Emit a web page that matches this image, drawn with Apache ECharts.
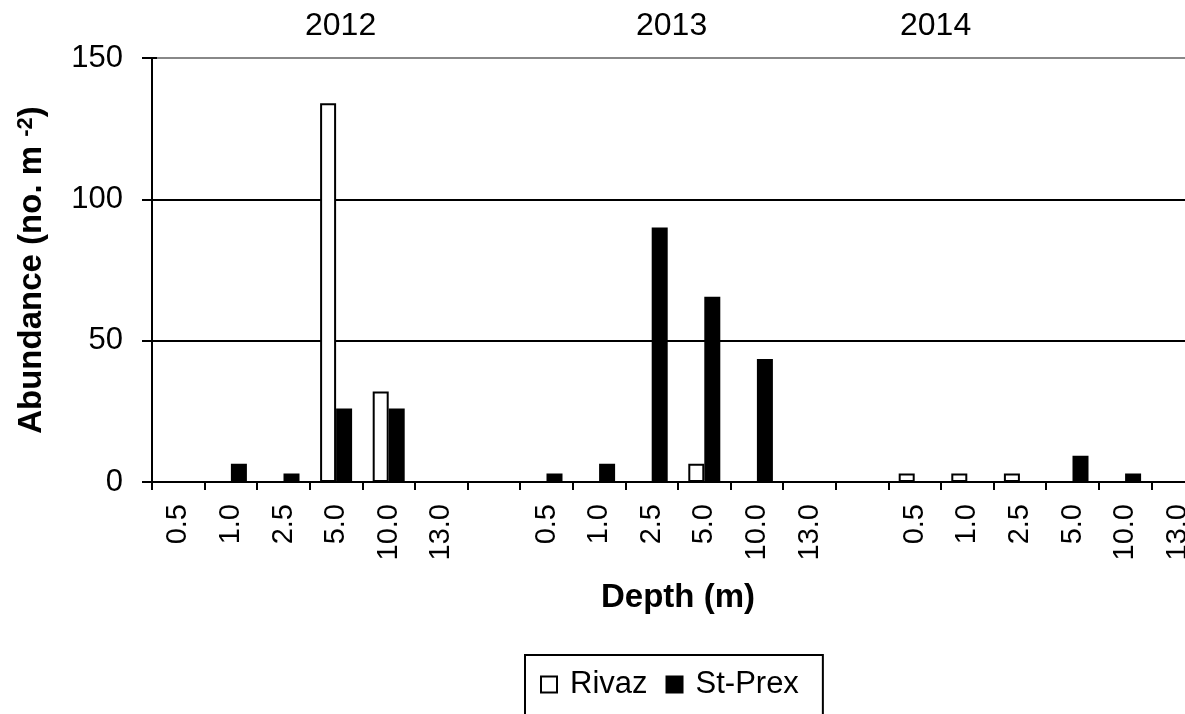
<!DOCTYPE html>
<html>
<head>
<meta charset="utf-8">
<script src="https://cdn.jsdelivr.net/npm/echarts@6/dist/echarts.min.js"></script>
<style>
html,body{margin:0;padding:0;background:#fff;}
#chart{width:1185px;height:714px;}
</style>
</head>
<body>
<div id="chart"></div>
<script>
// Categories: three years of six depths, separated by one blank slot each
const depths = ['0.5', '1.0', '2.5', '5.0', '10.0', '13.0'];
const years = ['2012', '2013', '2014'];
const categories = [].concat(depths, [''], depths, [''], depths);

// Abundance (no. m^-2), blank slots as null
const rivaz = [0, 0, 0, 134, 32, 0, null, 0, 0, 0, 6.5, 0, 0, null, 3, 3, 3, 0, 0, 0];
const stPrex = [0, 6.5, 3, 26, 26, 0, null, 3, 6.5, 90, 65.5, 43.5, 0, null, 0, 0, 0, 9.3, 3, 0];

const yTicks = { min: 0, max: 150, interval: 50 };

const FONT = 'Liberation Sans, Arial, sans-serif';
const chart = echarts.init(document.getElementById('chart'), null, { renderer: 'canvas' });

const yearLabelX = [341, 672, 936];

chart.setOption({
  animation: false,
  backgroundColor: '#fff',
  textStyle: { fontFamily: FONT, color: '#000' },
  grid: { left: 152, top: 58, bottom: 232, width: 1052, outerBoundsMode: 'none' },
  graphic: years.map((y, i) => ({
    type: 'text',
    left: yearLabelX[i] - 36,
    top: 10,
    style: { text: y, fontSize: 32, fontFamily: FONT, fill: '#000' }
  })),
  legend: {
    left: 525,
    top: 655,
    orient: 'horizontal',
    icon: 'rect',
    itemWidth: 16,
    itemHeight: 16,
    itemGap: 18,
    padding: [14, 24, 40, 15],
    borderColor: '#000',
    borderWidth: 2,
    textStyle: { fontSize: 31, fontFamily: FONT, color: '#000', padding: [0, 0, 0, 8] },
    data: ['Rivaz', 'St-Prex']
  },
  xAxis: {
    type: 'category',
    data: categories,
    boundaryGap: true,
    name: 'Depth (m)',
    nameLocation: 'middle',
    nameGap: 99,
    nameTextStyle: { fontSize: 33, fontWeight: 'bold', fontFamily: FONT, color: '#000' },
    axisLine: { lineStyle: { color: '#000', width: 2 } },
    axisTick: { show: true, length: 8, inside: false, interval: 0, lineStyle: { color: '#000', width: 2 } },
    axisLabel: { interval: 0, rotate: 90, fontSize: 29, margin: 22, color: '#000', fontFamily: FONT },
    splitLine: { show: false }
  },
  yAxis: [{
    type: 'value',
    min: yTicks.min,
    max: yTicks.max,
    interval: yTicks.interval,
    name: 'Abundance (no. m {sup|-2})',
    nameLocation: 'middle',
    nameGap: 104,
    nameRotate: 90,
    nameTextStyle: {
      fontSize: 33, fontWeight: 'bold', fontFamily: FONT, color: '#000',
      rich: { sup: { fontSize: 22, fontWeight: 'bold', fontFamily: FONT, color: '#000', verticalAlign: 'top', lineHeight: 22 } }
    },
    axisLine: { show: true, lineStyle: { color: '#000', width: 2 } },
    axisTick: { show: true, length: 10, inside: false, lineStyle: { color: '#000', width: 2 } },
    axisLabel: { fontSize: 31, margin: 29, color: '#000', fontFamily: FONT },
    splitLine: { show: true, lineStyle: { color: ['#000', '#000', '#000', '#888'], width: 2 } }
  }, {
    type: 'value',
    min: yTicks.min,
    max: yTicks.max,
    interval: yTicks.interval,
    position: 'left',
    axisLine: { show: false },
    axisTick: { show: true, length: 5, inside: true, lineStyle: { color: '#000', width: 2 } },
    axisLabel: { show: false },
    splitLine: { show: false }
  }],
  series: [{
    name: 'Rivaz',
    type: 'bar',
    data: rivaz,
    barWidth: 16,
    barGap: '0%',
    itemStyle: { color: '#fff', borderColor: '#000', borderWidth: 2 }
  }, {
    name: 'St-Prex',
    type: 'bar',
    data: stPrex,
    barWidth: 16,
    barGap: '0%',
    itemStyle: { color: '#000', borderColor: '#000', borderWidth: 2 }
  }]
});
</script>
</body>
</html>
